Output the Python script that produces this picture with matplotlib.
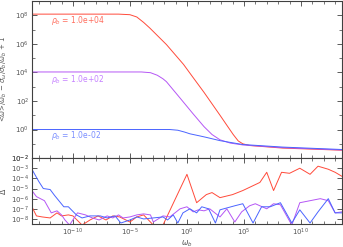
import matplotlib
matplotlib.use('Agg')
import matplotlib.pyplot as plt
from matplotlib.ticker import NullFormatter
import numpy as np

# ---- upper panel: curves (log10 x, log10 y) ----
red_lx = [-13.6, -6.0, -5.0, -4.4, -3.8, -3.25, -1.8, -0.3, 0.55, 1.5, 2.9, 3.5, 4.06,
          4.5, 4.9, 5.5, 8.4, 13.6]
red_ly = [8.08, 8.08, 8.04, 7.88, 7.5, 7.1, 5.95, 4.56, 3.63, 2.6, 1.0, 0.3, -0.35,
          -0.8, -1.0, -1.12, -1.3, -1.45]
pur_lx = [-13.6, -4.0, -3.2, -2.6, -2.1, -1.8, -0.6, 0.55, 1.5, 2.2, 2.9, 3.8, 4.9,
          8.4, 13.6]
pur_ly = [4.03, 4.03, 3.98, 3.8, 3.55, 3.35, 2.2, 1.09, 0.2, -0.35, -0.72, -0.95, -1.08,
          -1.27, -1.43]
blu_lx = [-13.6, -1.5, -0.8, -0.2, 0.26, 1.14, 1.7, 2.9, 4.9, 8.4, 13.6]
blu_ly = [0.0, 0.0, -0.05, -0.18, -0.3, -0.45, -0.55, -0.78, -1.05, -1.23, -1.4]

labels = [r'$\rho_b$ = 1.0e+04', r'$\rho_b$ = 1.0e+02', r'$\rho_b$ = 1.0e-02']
label_ly = [7.6, 3.5, -0.4]

# ---- lower panel: relative error Delta (log10 x, log10 y) ----
dred_lx = [-13.6, -13.2, -12.7, -12.0, -11.4, -11.0, -10.4, -10.0, -9.2, -8.5, -7.8,
           -7.1, -6.5, -5.9, -5.0, -4.4, -3.8, -2.95, -2.1, 0.0, 0.85, 1.7, 2.2, 2.9,
           4.0, 4.9, 6.4, 7.0, 7.6, 8.3, 9.0, 9.9, 10.8, 11.5, 12.4, 13.0, 13.6]
dred_ly = [-6.8, -7.7, -7.8, -7.9, -7.4, -7.7, -7.6, -7.7, -8.6, -8.1, -7.7,
           -8.1, -7.7, -7.8, -8.3, -7.8, -7.6, -8.6, -8.6, -3.6, -6.4, -5.6, -5.4, -5.9,
           -5.6, -5.2, -4.4, -3.4, -5.2, -3.4, -3.5, -3.0, -3.6, -2.8, -3.1, -3.4, -3.8]
dpur_lx = [-13.6, -13.2, -12.5, -11.9, -11.4, -11.0, -10.7, -10.3, -9.6, -8.9, -8.3,
           -7.7, -7.0, -6.5, -6.0, -5.6, -5.0, -4.4, -3.8, -3.2, -2.95, -2.1, -1.5, -0.6,
           0.0, 0.55, 1.0, 1.5, 2.0, 2.9, 3.5, 4.2, 4.8, 5.5, 6.0, 7.0, 7.6, 8.2, 9.2,
           9.9, 10.8, 11.7, 12.4, 13.0, 13.6]
dpur_ly = [-5.2, -5.8, -6.2, -7.4, -7.2, -7.6, -8.1, -8.6, -7.4, -7.6, -7.9,
           -8.1, -7.7, -7.9, -7.6, -7.9, -7.8, -7.6, -7.5, -7.6, -8.3, -7.7, -7.8, -7.0,
           -6.8, -7.3, -7.1, -7.2, -7.0, -7.8, -7.0, -8.3, -7.3, -6.7, -6.5, -7.0, -6.5,
           -6.6, -8.6, -6.4, -6.2, -6.0, -6.2, -7.4, -7.3]
dblu_lx = [-13.6, -13.0, -12.6, -12.0, -11.6, -10.8, -10.4, -9.7, -9.2, -8.5, -7.6,
           -7.0, -6.3, -5.8, -5.0, -4.4, -3.8, -2.95, -2.1, -1.7, -1.2, -0.8, -0.35, 0.26,
           0.85, 1.3, 1.9, 2.5, 2.9, 4.2, 4.9, 5.8, 6.55, 7.3, 8.2, 9.2, 9.9, 10.8, 11.5,
           12.4, 13.0, 13.6]
dblu_ly = [-3.1, -4.3, -5.0, -5.1, -5.7, -6.8, -6.8, -7.6, -7.9, -7.7, -7.7,
           -7.9, -7.7, -8.4, -8.1, -7.8, -8.0, -7.9, -7.8, -8.1, -7.6, -8.4, -7.4, -7.0,
           -7.4, -6.8, -7.0, -8.4, -7.1, -6.7, -6.5, -8.4, -6.8, -6.8, -6.4, -8.4, -7.1,
           -8.4, -7.3, -6.0, -7.4, -7.4]

c_red, c_pur, c_blu = '#ff4a3a', '#b556f5', '#4a64ff'
lc_red, lc_pur, lc_blu = '#ff6e5e', '#c682ff', '#7a8eff'
frame = '#404040'
txt = '#555555'

plt.rcParams['font.family'] = ['DejaVu Sans']
plt.rcParams['font.size'] = 5
plt.rcParams['mathtext.fontset'] = 'dejavusans'

fig = plt.figure(figsize=(3.43, 2.47), dpi=100)
ax = fig.add_axes([0.093, 0.36, 0.904, 0.636])
axd = fig.add_axes([0.093, 0.093, 0.904, 0.267])

def p10(a):
    return 10.0 ** np.asarray(a)

lw = 0.7
ax.plot(p10(red_lx), p10(red_ly), color=c_red, lw=lw)
ax.plot(p10(pur_lx), p10(pur_ly), color=c_pur, lw=lw)
ax.plot(p10(blu_lx), p10(blu_ly), color=c_blu, lw=lw)
for lab, ly, c in zip(labels, label_ly, [lc_red, lc_pur, lc_blu]):
    ax.text(1.3e-12, 10 ** ly, lab, color=c, fontsize=5.5, va='center', ha='left')

axd.plot(p10(dred_lx), p10(dred_ly), color=c_red, lw=lw)
axd.plot(p10(dpur_lx), p10(dpur_ly), color=c_pur, lw=lw)
axd.plot(p10(dblu_lx), p10(dblu_ly), color=c_blu, lw=lw)

for a in (ax, axd):
    a.set_xscale('log')
    a.set_yscale('log')
    a.set_xlim(10 ** -13.6, 10 ** 13.6)
    for s in a.spines.values():
        s.set_color(frame)
        s.set_linewidth(0.8)
    a.tick_params(which='both', direction='in', top=True, right=True, color=frame,
                  labelcolor=txt, labelsize=5, pad=2)
    a.tick_params(which='major', length=3.5, width=0.6)
    a.tick_params(which='minor', length=2, width=0.5)
    a.set_xticks([1e-10, 1e-5, 1e0, 1e5, 1e10])
    a.set_xticks(p10(np.arange(-13, 14)), minor=True)
    a.xaxis.set_minor_formatter(NullFormatter())
    a.yaxis.set_minor_formatter(NullFormatter())

ax.set_ylim(1e-2, 1e9)
ax.set_yticks(p10(np.arange(-2, 9, 2)))
ax.set_yticks(p10(np.arange(-1, 10, 2)), minor=True)
ax.yaxis.set_minor_formatter(NullFormatter())
ax.tick_params(labelbottom=False)
ax.set_ylabel(r'<$\omega$>/$\omega_b$ $-$ $\sigma_\omega$/$\sigma_b$/$\omega_b$ + 1',
              color=txt, fontsize=5, labelpad=2)

axd.set_ylim(10 ** -8.5, 1e-2)
axd.set_yticks(p10(np.arange(-8, -1)))
axd.set_yticks([], minor=True)
axd.set_ylabel(r'$\Delta$', color=txt, fontsize=5.5, labelpad=2)
axd.set_xlabel(r'$\omega_b$', color=txt, fontsize=5.5, labelpad=0)

fig.savefig('out.png', dpi=100)
